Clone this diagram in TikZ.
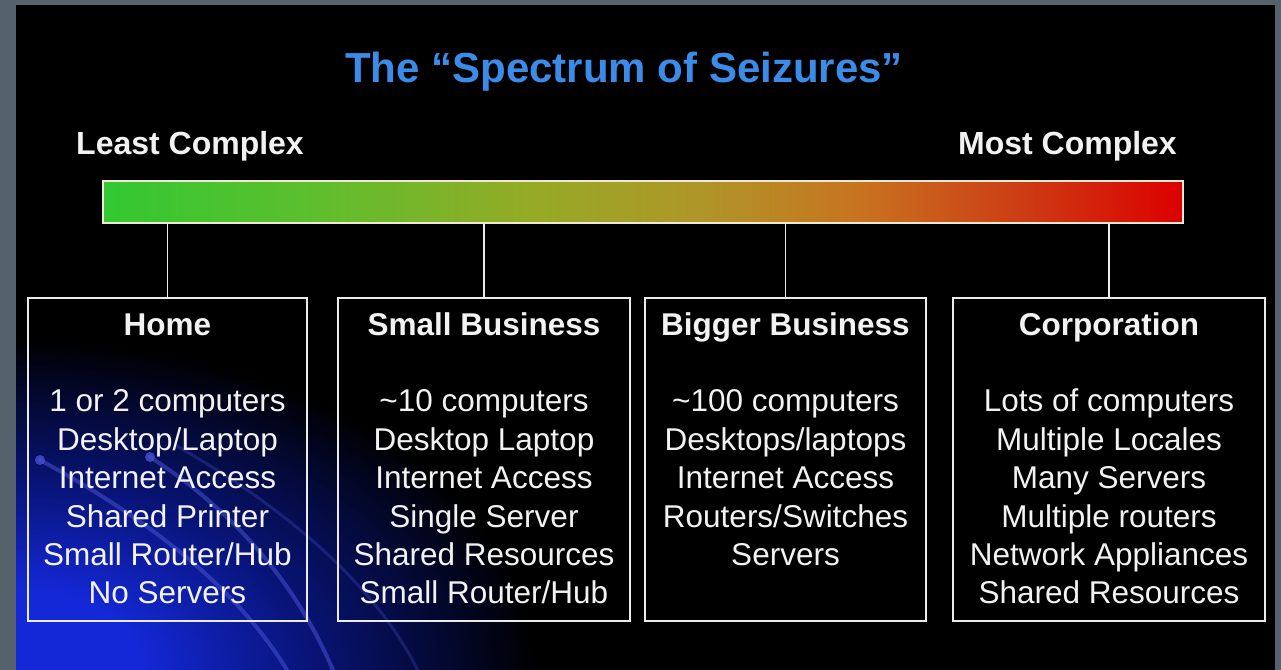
\documentclass[tikz,border=0pt]{standalone}
\usepackage{fontspec}
\setmainfont{Liberation Sans}
\definecolor{frame}{RGB}{86,98,107}
\definecolor{ttl}{RGB}{58,140,232}
\definecolor{txt}{RGB}{242,242,242}
\definecolor{edge}{RGB}{235,235,235}
\definecolor{baredge}{RGB}{240,232,210}
\definecolor{sg0}{RGB}{50,200,50}
\definecolor{sg1}{RGB}{95,190,45}
\definecolor{sg2}{RGB}{150,170,38}
\definecolor{sg3}{RGB}{175,150,40}
\definecolor{sg4}{RGB}{200,115,32}
\definecolor{sg5}{RGB}{205,60,20}
\definecolor{sg6}{RGB}{220,0,0}
\definecolor{gl0}{RGB}{20,40,215}
\definecolor{gl1}{RGB}{8,20,120}
\definecolor{streak}{RGB}{70,80,210}
\pgfdeclarehorizontalshading{spectrum}{100bp}{color(0bp)=(sg0); color(25bp)=(sg0); color(35bp)=(sg1); color(45bp)=(sg2); color(52.5bp)=(sg3); color(60bp)=(sg4); color(67.5bp)=(sg5); color(75bp)=(sg6); color(100bp)=(sg6)}
\pgfdeclareradialshading{glow}{\pgfpoint{0bp}{0bp}}{color(0bp)=(gl0); color(6bp)=(gl0); color(14bp)=(gl1); color(25bp)=(black); color(50bp)=(black)}
\tikzset{
  boxnode/.style={draw=edge, line width=2pt, inner sep=0pt},
  boxtext/.style={text=txt, align=center, inner sep=0pt, anchor=north,
    font=\fontsize{31.5pt}{38.4pt}\selectfont},
  sidelabel/.style={text=txt, inner sep=0pt, font=\fontsize{32pt}{38pt}\selectfont\bfseries},
  conn/.style={draw=edge, line width=1.5pt},
  streakline/.style={draw=streak, line width=4pt, opacity=0.55, line cap=round}
}
\newcommand{\hdr}[1]{\textbf{\vphantom{Bl}#1}}
\begin{document}
\begin{tikzpicture}[x=1pt, y=-1pt]
\useasboundingbox (0,0) rectangle (1281,669);
\fill[frame] (-6,-6) rectangle (1287,675);
\fill[black] (16,5) rectangle (1275,675);
\begin{scope}
  \clip (16,5) rectangle (1275,675);
  \fill[shading=glow] (16,669) ellipse [x radius=520, y radius=330];
  \draw[streakline] (40,460) .. controls (150,520) and (240,590) .. (290,675);
  \draw[streakline] (150,457) .. controls (240,515) and (300,590) .. (335,675);
  \draw[streakline, opacity=0.3, line width=3pt] (175,445) .. controls (290,510) and (380,590) .. (420,675);
  \fill[streak, opacity=0.8] (40,460) circle (5);
  \fill[streak, opacity=0.8] (150,457) circle (5);
\end{scope}

\node[text=ttl, anchor=base, inner sep=0pt, font=\fontsize{42pt}{50pt}\selectfont\bfseries] (title) at (624,82) {The “Spectrum of Seizures”};
\node[sidelabel, anchor=base west] (least) at (76,154) {Least Complex};
\node[sidelabel, anchor=base east] (most) at (1177,154) {Most Complex};

\node[draw=baredge, line width=1.8pt, shading=spectrum, minimum width=1080pt, minimum height=42pt, inner sep=0pt] (bar) at (643,202) {};

\node[boxnode, minimum width=279pt, minimum height=323pt] (home) at (167.5,459.5) {};
\node[boxnode, minimum width=292pt, minimum height=323pt] (small) at (484,459.5) {};
\node[boxnode, minimum width=281pt, minimum height=323pt] (bigger) at (785.5,459.5) {};
\node[boxnode, minimum width=312pt, minimum height=323pt] (corp) at (1109,459.5) {};

\foreach \b in {home,small,bigger,corp}
  \draw[conn] (bar.south -| \b.north) -- (\b.north);

\node[boxtext] (hometext) at ([yshift=-15pt]home.north) {\hdr{Home}\\[38.4pt]1 or 2 computers\\Desktop/Laptop\\Internet Access\\Shared Printer\\Small Router/Hub\\No Servers};
\node[boxtext] (smalltext) at ([yshift=-15pt]small.north) {\hdr{Small Business}\\[38.4pt]\textasciitilde10 computers\\Desktop Laptop\\Internet Access\\Single Server\\Shared Resources\\Small Router/Hub};
\node[boxtext] (biggertext) at ([yshift=-15pt]bigger.north) {\hdr{Bigger Business}\\[38.4pt]\textasciitilde100 computers\\Desktops/laptops\\Internet Access\\Routers/Switches\\Servers};
\node[boxtext] (corptext) at ([yshift=-15pt]corp.north) {\hdr{Corporation}\\[38.4pt]Lots of computers\\Multiple Locales\\Many Servers\\Multiple routers\\Network Appliances\\Shared Resources};
\end{tikzpicture}
\end{document}
